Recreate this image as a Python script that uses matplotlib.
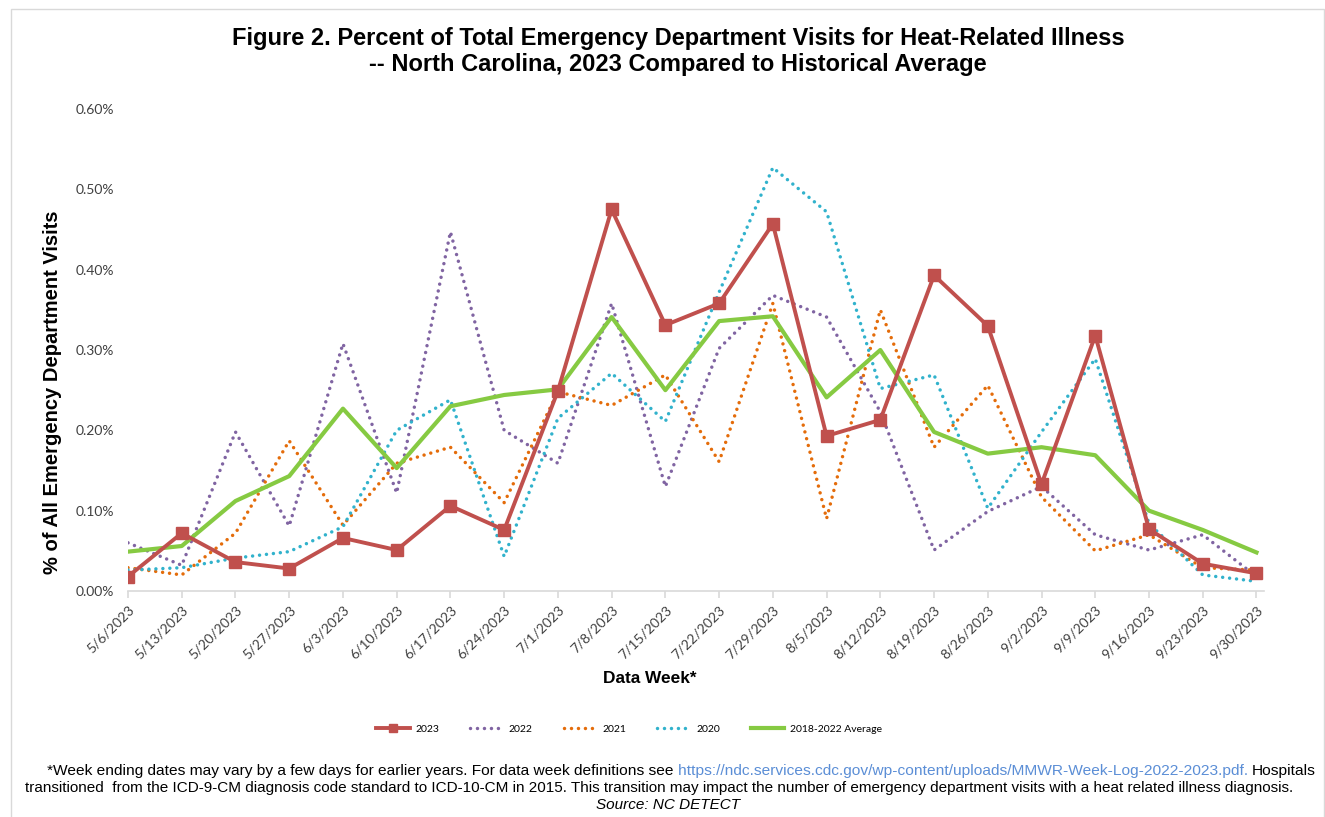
import matplotlib
matplotlib.use("Agg")
import matplotlib.pyplot as plt
from matplotlib.patches import Rectangle
from matplotlib.ticker import FuncFormatter

weeks = ['5/6/2023', '5/13/2023', '5/20/2023', '5/27/2023', '6/3/2023', '6/10/2023',
         '6/17/2023', '6/24/2023', '7/1/2023', '7/8/2023', '7/15/2023', '7/22/2023',
         '7/29/2023', '8/5/2023', '8/12/2023', '8/19/2023', '8/26/2023', '9/2/2023',
         '9/9/2023', '9/16/2023', '9/23/2023', '9/30/2023']

# percent of all ED visits
y2023 = [0.018, 0.072, 0.036, 0.028, 0.066, 0.051, 0.106, 0.076, 0.249, 0.475, 0.331,
         0.358, 0.457, 0.193, 0.213, 0.393, 0.330, 0.133, 0.318, 0.077, 0.034, 0.022]
y2022 = [0.060, 0.032, 0.198, 0.081, 0.308, 0.122, 0.447, 0.200, 0.159, 0.358, 0.130,
         0.302, 0.368, 0.341, 0.223, 0.051, 0.099, 0.130, 0.070, 0.051, 0.070, 0.018]
y2021 = [0.029, 0.020, 0.072, 0.187, 0.082, 0.159, 0.179, 0.110, 0.248, 0.231, 0.269,
         0.161, 0.358, 0.090, 0.350, 0.179, 0.256, 0.117, 0.050, 0.070, 0.029, 0.026]
y2020 = [0.026, 0.029, 0.041, 0.049, 0.080, 0.200, 0.238, 0.043, 0.215, 0.271, 0.211,
         0.372, 0.527, 0.472, 0.252, 0.269, 0.103, 0.198, 0.289, 0.084, 0.020, 0.012]
avg = [0.049, 0.056, 0.112, 0.143, 0.227, 0.153, 0.230, 0.244, 0.251, 0.341, 0.250,
       0.336, 0.342, 0.241, 0.300, 0.198, 0.171, 0.179, 0.169, 0.100, 0.076, 0.048]

W, H = 1325, 817
fig = plt.figure(figsize=(W / 100, H / 100), dpi=100)
ax = fig.add_axes([128 / W, 1 - 591 / H, (1264 - 128) / W, (591 - 109) / H])

x = list(range(len(weeks)))
dot = (0, (0.01, 2.0))
ax.plot(x, y2022, color='#8064A2', lw=2.5, ls=dot, dash_capstyle='round', label='2022')
ax.plot(x, y2021, color='#E46C0A', lw=2.5, ls=dot, dash_capstyle='round', label='2021')
ax.plot(x, y2020, color='#31B2CC', lw=2.5, ls=dot, dash_capstyle='round', label='2020')
ax.plot(x, avg, color='#86CA42', lw=3, label='2018-2022 Average')
ax.plot(x, y2023, color='#C0504D', lw=2.8, marker='s', ms=8.8, label='2023')

ax.set_xlim(0, 21.14)
ax.set_ylim(0, 0.6)
ax.set_yticks([0, 0.1, 0.2, 0.3, 0.4, 0.5, 0.6])
ax.yaxis.set_major_formatter(FuncFormatter(lambda v, p: '%.2f%%' % v))
ax.set_xticks(x)
ax.set_xticklabels(weeks, rotation=45, ha='right', rotation_mode='anchor',
                   fontsize=10, family='Lato', color='#404040')
for lab in ax.get_yticklabels():
    lab.set_family('Lato')
    lab.set_fontsize(10)
    lab.set_color('#404040')

for s in ['left', 'top', 'right']:
    ax.spines[s].set_visible(False)
ax.spines['bottom'].set_color('#D9D9D9')
ax.spines['bottom'].set_linewidth(1.2)
ax.tick_params(axis='y', length=0, pad=10)
ax.tick_params(axis='x', length=5, color='#D9D9D9', width=1.2, pad=4)

ax.set_xlabel('Data Week*', fontsize=12.4, fontweight='bold', family='Liberation Sans')
ax.set_ylabel('% of All Emergency Department Visits', fontsize=14.5, fontweight='bold',
              family='Liberation Sans')
ax.xaxis.set_label_coords((650 - 128) / (1264 - 128), -(671 - 591) / (591 - 109))
ax.yaxis.set_label_coords(-(128 - 62) / (1264 - 128), (591 - 392) / (591 - 109))

fig.text(678 / W, 1 - 27 / H,
         'Figure 2. Percent of Total Emergency Department Visits for Heat-Related Illness\n'
         '-- North Carolina, 2023 Compared to Historical Average',
         ha='center', va='top', multialignment='center', fontsize=17, fontweight='bold',
         family='Liberation Sans', linespacing=1.15)

handles, labels = ax.get_legend_handles_labels()
order = [4, 0, 1, 2, 3]
fig.legend([handles[i] for i in order], [labels[i] for i in order], ncol=5,
           loc='center', bbox_to_anchor=(629 / W, 1 - 729 / H), frameon=False,
           prop={'family': 'Lato', 'size': 7.5}, handlelength=3.2, handletextpad=0.5,
           columnspacing=3.0, markerscale=0.6)

# footnote, first line chained in three pieces
fy1 = 1 - 771 / H
parts = [('*Week ending dates may vary by a few days for earlier years. For data week definitions see ', 'black'),
         ('https://ndc.services.cdc.gov/wp-content/uploads/MMWR-Week-Log-2022-2023.pdf. ', '#5B8ED6'),
         ('Hospitals', 'black')]
texts = [fig.text(0, fy1, s, ha='left', va='center', color=c, fontsize=11.15,
                  family='Liberation Sans') for s, c in parts]
renderer = fig.canvas.get_renderer()
widths = [t.get_window_extent(renderer).width for t in texts]
xpos = 681.5 - sum(widths) / 2
for t, w in zip(texts, widths):
    t.set_x(xpos / W)
    xpos += w
fig.text(659.5 / W, 1 - 788 / H,
         'transitioned  from the ICD-9-CM diagnosis code standard to ICD-10-CM in 2015. '
         'This transition may impact the number of emergency department visits with a heat related illness diagnosis.',
         ha='center', va='center', fontsize=11.0, family='Liberation Sans')
fig.text(668 / W, 1 - 805 / H, 'Source: NC DETECT', ha='center', va='center',
         style='italic', fontsize=11, family='Liberation Sans')

fig.patches.append(Rectangle((11 / W, -0.01), (1324 - 11) / W, 1.01 - 9 / H,
                             transform=fig.transFigure, fill=False,
                             edgecolor='#D9D9D9', lw=1))

fig.savefig('out.png', dpi=100)
